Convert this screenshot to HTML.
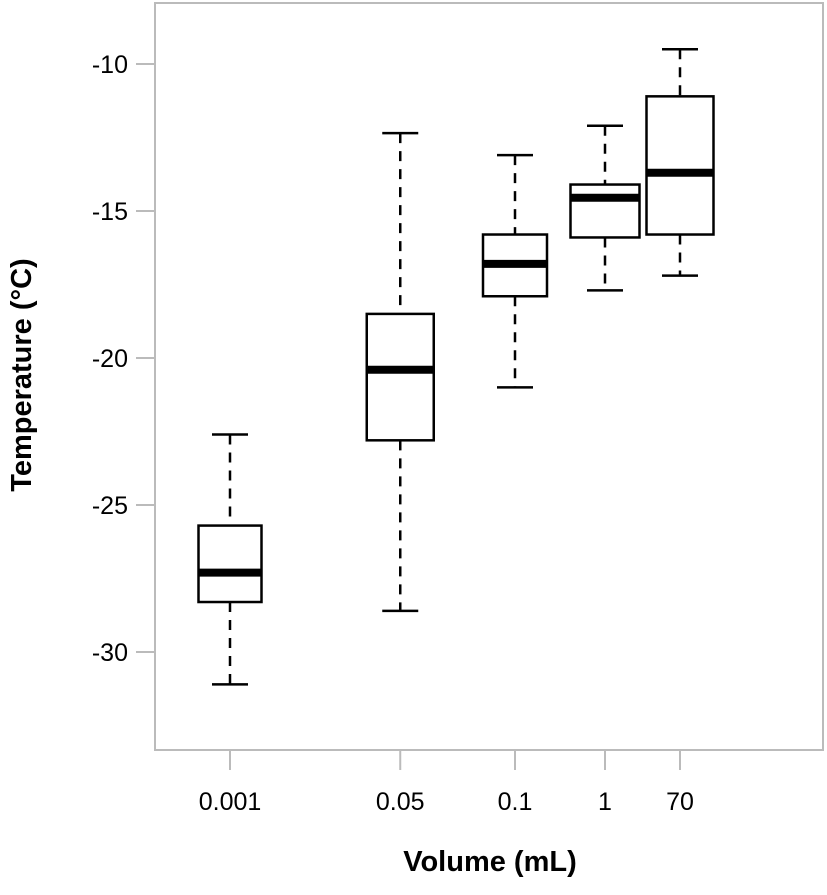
<!DOCTYPE html>
<html><head><meta charset="utf-8"><style>
body{margin:0;background:#fff;}
svg text{font-family:"Liberation Sans",Arial,sans-serif;}
</style></head><body>
<svg id="chart" width="827" height="890" xmlns="http://www.w3.org/2000/svg">
<rect x="155" y="3" width="668" height="747" fill="none" stroke="#bbb" stroke-width="2"/>
<g id="marks"></g>
<text x="490" y="871" text-anchor="middle" font-size="29" font-weight="bold">Volume (mL)</text>
<text transform="translate(31,375) rotate(-90)" text-anchor="middle" font-size="29" font-weight="bold">Temperature (°C)</text>
</svg>
<script>
const categories=["0.001","0.05","0.1","1","70"];
const whiskerHigh=[-22.6,-12.35,-13.1,-12.1,-9.5];
const q3=[-25.7,-18.5,-15.8,-14.1,-11.1];
const medians=[-27.3,-20.4,-16.8,-14.55,-13.7];
const q1=[-28.3,-22.8,-17.9,-15.9,-15.8];
const whiskerLow=[-31.1,-28.6,-21,-17.7,-17.2];
const xSlots=[0,2.27,3.8,5,6];
const yTicks=[-10,-15,-20,-25,-30];
const ns="http://www.w3.org/2000/svg";
const g=document.getElementById('marks');
function y(v){return 64+(-10-v)*29.4;}
function x(s){return 230+s*75;}
const boxW=[63,67,64,69,67];
function el(t,a){const e=document.createElementNS(ns,t);for(const k in a)e.setAttribute(k,a[k]);g.appendChild(e);return e;}
yTicks.forEach(t=>{
 const l=el('line',{x1:136,x2:155,y1:y(t),y2:y(t),stroke:'#bbb','stroke-width':2});
 
 
 const tx=el('text',{x:128,y:y(t)+9,'text-anchor':'end','font-size':25});
 tx.textContent=t;
 
 
});
categories.forEach((c,i)=>{
 const cx=x(xSlots[i]);
 const l=el('line',{x1:cx,x2:cx,y1:750,y2:770,stroke:'#bbb','stroke-width':2});
 
 
 const tx=el('text',{x:cx,y:810,'text-anchor':'middle','font-size':25});
 tx.textContent=c;
 
 
 const w=boxW[i];
 const wu=el('line',{x1:cx,x2:cx,y1:y(whiskerHigh[i]),y2:y(q3[i]),stroke:'#000','stroke-width':2.5,'stroke-dasharray':'10,8'});
 
 
 const wl=el('line',{x1:cx,x2:cx,y1:y(q1[i]),y2:y(whiskerLow[i]),stroke:'#000','stroke-width':2.5,'stroke-dasharray':'10,8'});
 
 
 [whiskerHigh[i],whiskerLow[i]].forEach(v=>{
  const cap=el('line',{x1:cx-18,x2:cx+18,y1:y(v),y2:y(v),stroke:'#000','stroke-width':2.5});
  
  
 });
 const b=el('rect',{x:cx-w/2,y:y(q3[i]),width:w,height:y(q1[i])-y(q3[i]),fill:'#fff',stroke:'#000','stroke-width':2.5});
 
 
 const m=el('line',{x1:cx-w/2,x2:cx+w/2,y1:y(medians[i]),y2:y(medians[i]),stroke:'#000','stroke-width':8});
 
 
});
</script>
</body></html>
